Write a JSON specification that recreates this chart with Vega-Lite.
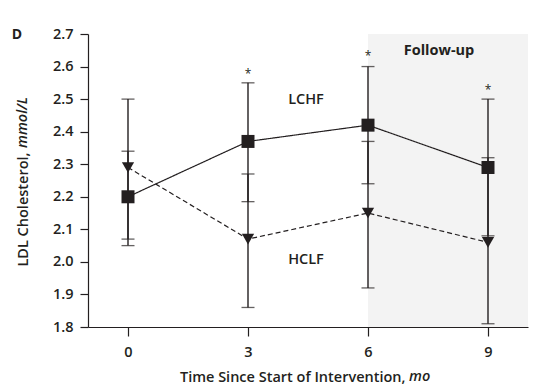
{
  "$schema": "https://vega.github.io/schema/vega-lite/v6.json",
  "width": 440,
  "height": 293,
  "autosize": {"type": "none"},
  "padding": {"left": 88, "top": 34, "right": 13, "bottom": 64},
  "background": "white",
  "config": {
    "view": {"stroke": null},
    "font": "Open Sans",
    "axis": {
      "grid": false,
      "domainColor": "#231f20",
      "tickColor": "#231f20",
      "labelColor": "#231f20",
      "titleColor": "#231f20",
      "labelFontSize": 14.5,
      "labelFontWeight": 600,
      "titleFontSize": 14.5,
      "titleFontWeight": 600,
      "domainWidth": 1.2,
      "tickWidth": 1.2,
      "labelOverlap": false
    },
    "axisX": {
      "values": [0, 3, 6, 9],
      "tickSize": 9,
      "labelPadding": 9,
      "titleAlign": "right",
      "titleX": 317,
      "titleY": 54,
      "titleBaseline": "alphabetic"
    },
    "axisY": {
      "tickSize": 8,
      "labelPadding": 7,
      "titleAlign": "right",
      "titleX": -58,
      "titleY": 118
    }
  },
  "datasets": {
    "ldl": [
      {"month": 0, "group": "LCHF", "mean": 2.20, "lo": 2.05, "hi": 2.34},
      {"month": 3, "group": "LCHF", "mean": 2.37, "lo": 2.185, "hi": 2.55},
      {"month": 6, "group": "LCHF", "mean": 2.42, "lo": 2.24, "hi": 2.60},
      {"month": 9, "group": "LCHF", "mean": 2.29, "lo": 2.08, "hi": 2.50},
      {"month": 0, "group": "HCLF", "mean": 2.29, "lo": 2.07, "hi": 2.50},
      {"month": 3, "group": "HCLF", "mean": 2.07, "lo": 1.86, "hi": 2.27},
      {"month": 6, "group": "HCLF", "mean": 2.15, "lo": 1.92, "hi": 2.37},
      {"month": 9, "group": "HCLF", "mean": 2.06, "lo": 1.81, "hi": 2.32}
    ],
    "stars": [
      {"month": 3, "level": 2.583},
      {"month": 6, "level": 2.64},
      {"month": 9, "level": 2.533}
    ],
    "phase": [
      {"phase": "Follow-up", "start": 6, "end": 10}
    ]
  },
  "layer": [
    {
      "data": {"name": "phase"},
      "mark": {"type": "rect", "color": "#f3f3f3"},
      "encoding": {
        "x": {
          "field": "start", "type": "quantitative",
          "title": "Time Since Start of Intervention,",
          "scale": {"domain": [-1, 10], "nice": false, "zero": false},
          "axis": {"values": [0, 3, 6, 9]}
        },
        "x2": {"field": "end"}
      }
    },
    {
      "data": {"name": "ldl"},
      "mark": {"type": "rule", "color": "#231f20", "strokeWidth": 1.4},
      "encoding": {
        "x": {"field": "month", "type": "quantitative", "title": "Time Since Start of Intervention,", "axis": {"values": [0, 3, 6, 9]}},
        "y": {
          "field": "lo", "type": "quantitative",
          "title": "LDL Cholesterol,",
          "scale": {"domain": [1.8, 2.7], "nice": false, "zero": false},
          "axis": {"values": [1.8, 1.9, 2.0, 2.1, 2.2, 2.3, 2.4, 2.5, 2.6, 2.7], "format": ".1f"}
        },
        "y2": {"field": "hi"}
      }
    },
    {
      "data": {"name": "ldl"},
      "mark": {"type": "tick", "orient": "horizontal", "color": "#231f20", "size": 13, "thickness": 1.3},
      "encoding": {
        "x": {"field": "month", "type": "quantitative", "title": "Time Since Start of Intervention,", "axis": {"values": [0, 3, 6, 9]}},
        "y": {"field": "lo", "type": "quantitative", "title": "LDL Cholesterol,", "axis": {"values": [1.8, 1.9, 2.0, 2.1, 2.2, 2.3, 2.4, 2.5, 2.6, 2.7], "format": ".1f"}}
      }
    },
    {
      "data": {"name": "ldl"},
      "mark": {"type": "tick", "orient": "horizontal", "color": "#231f20", "size": 13, "thickness": 1.3},
      "encoding": {
        "x": {"field": "month", "type": "quantitative", "title": "Time Since Start of Intervention,", "axis": {"values": [0, 3, 6, 9]}},
        "y": {"field": "hi", "type": "quantitative", "title": "LDL Cholesterol,", "axis": {"values": [1.8, 1.9, 2.0, 2.1, 2.2, 2.3, 2.4, 2.5, 2.6, 2.7], "format": ".1f"}}
      }
    },
    {
      "data": {"name": "ldl"},
      "mark": {"type": "line", "color": "#231f20", "strokeWidth": 1.2},
      "encoding": {
        "x": {"field": "month", "type": "quantitative", "title": "Time Since Start of Intervention,", "axis": {"values": [0, 3, 6, 9]}},
        "y": {"field": "mean", "type": "quantitative", "title": "LDL Cholesterol,", "axis": {"values": [1.8, 1.9, 2.0, 2.1, 2.2, 2.3, 2.4, 2.5, 2.6, 2.7], "format": ".1f"}},
        "detail": {"field": "group"},
        "strokeDash": {
          "field": "group", "type": "nominal",
          "scale": {"domain": ["LCHF", "HCLF"], "range": [[1, 0], [5, 3]]},
          "legend": null
        }
      }
    },
    {
      "data": {"name": "ldl"},
      "mark": {"type": "point", "filled": true, "opacity": 1, "color": "#231f20"},
      "encoding": {
        "x": {"field": "month", "type": "quantitative", "title": "Time Since Start of Intervention,", "axis": {"values": [0, 3, 6, 9]}},
        "y": {"field": "mean", "type": "quantitative", "title": "LDL Cholesterol,", "axis": {"values": [1.8, 1.9, 2.0, 2.1, 2.2, 2.3, 2.4, 2.5, 2.6, 2.7], "format": ".1f"}},
        "shape": {
          "field": "group", "type": "nominal",
          "scale": {"domain": ["LCHF", "HCLF"], "range": ["square", "triangle-down"]},
          "legend": null
        },
        "size": {
          "field": "group", "type": "nominal",
          "scale": {"domain": ["LCHF", "HCLF"], "range": [169, 150]},
          "legend": null
        }
      }
    },
    {
      "data": {"name": "stars"},
      "mark": {"type": "text", "text": "*", "color": "#231f20", "fontSize": 12, "baseline": "middle", "align": "center", "dy": 2},
      "encoding": {
        "x": {"field": "month", "type": "quantitative", "title": "Time Since Start of Intervention,", "axis": {"values": [0, 3, 6, 9]}},
        "y": {"field": "level", "type": "quantitative", "title": "LDL Cholesterol,", "axis": {"values": [1.8, 1.9, 2.0, 2.1, 2.2, 2.3, 2.4, 2.5, 2.6, 2.7], "format": ".1f"}}
      }
    },
    {
      "data": {"values": [{}]},
      "encoding": {
        "x": {"type": "quantitative", "title": "Time Since Start of Intervention,", "axis": {"values": [0, 3, 6, 9]}},
        "y": {"type": "quantitative", "title": "LDL Cholesterol,", "axis": {"values": [1.8, 1.9, 2.0, 2.1, 2.2, 2.3, 2.4, 2.5, 2.6, 2.7], "format": ".1f"}}
      },
      "layer": [
        {
          "mark": {"type": "text", "text": "LCHF", "fontSize": 14.5, "fontWeight": 600, "color": "#231f20", "align": "center", "baseline": "middle"},
          "encoding": {"x": {"datum": 4.45}, "y": {"datum": 2.497}}
        },
        {
          "mark": {"type": "text", "text": "HCLF", "fontSize": 14.5, "fontWeight": 600, "color": "#231f20", "align": "center", "baseline": "middle"},
          "encoding": {"x": {"datum": 4.45}, "y": {"datum": 2.006}}
        },
        {
          "mark": {"type": "text", "text": "Follow-up", "fontSize": 14.5, "fontWeight": "bold", "color": "#231f20", "align": "center", "baseline": "middle"},
          "encoding": {"x": {"datum": 7.775}, "y": {"datum": 2.648}}
        },
        {
          "mark": {"type": "text", "text": "D", "fontSize": 14, "fontWeight": "bold", "color": "#231f20", "align": "center", "baseline": "middle"},
          "encoding": {"x": {"datum": -2.775}, "y": {"datum": 2.697}}
        },
        {
          "mark": {"type": "text", "text": "mmol/L", "fontSize": 14.5, "fontWeight": 600, "fontStyle": "italic", "color": "#231f20", "align": "left", "baseline": "bottom", "angle": 270},
          "encoding": {"x": {"datum": -2.45}, "y": {"datum": 2.35}}
        },
        {
          "mark": {"type": "text", "text": "mo", "fontSize": 14.5, "fontWeight": 600, "fontStyle": "italic", "color": "#231f20", "align": "left", "baseline": "alphabetic"},
          "encoding": {"x": {"datum": 7.025}, "y": {"datum": 1.6343}}
        }
      ]
    }
  ]
}
